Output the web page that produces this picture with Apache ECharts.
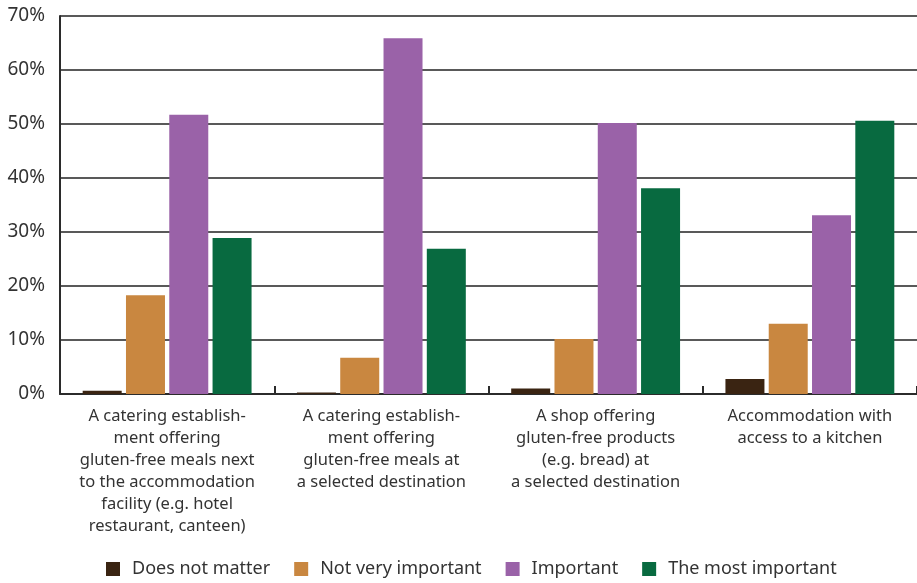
<!DOCTYPE html>
<html>
<head>
<meta charset="utf-8">
<script src="https://cdn.jsdelivr.net/npm/echarts@6/dist/echarts.min.js"></script>
<style>
  html, body { margin: 0; padding: 0; background: #fff; }
  #chart { width: 917px; height: 583px; }
</style>
</head>
<body>
<div id="chart"></div>
<script>
const categories = [
  'A catering establish-\nment offering\ngluten-free meals next\nto the accommodation\nfacility (e.g. hotel\nrestaurant, canteen)',
  'A catering establish-\nment offering\ngluten-free meals at\na selected destination',
  'A shop offering\ngluten-free products\n(e.g. bread) at\na selected destination',
  'Accommodation with\naccess to a kitchen'
];
const seriesNames = ['Does not matter', 'Not very important', 'Important', 'The most important'];
const doesNotMatter = [0.6, 0.3, 1.0, 2.8];
const notVeryImportant = [18.3, 6.7, 10.2, 13.0];
const important = [51.7, 65.9, 50.2, 33.1];
const mostImportant = [28.9, 26.9, 38.1, 50.6];
const colors = ['#3a2412', '#c98740', '#9a62a8', '#086a40'];

const font = 'Noto Sans';
const chart = echarts.init(document.getElementById('chart'));

const seriesData = [doesNotMatter, notVeryImportant, important, mostImportant];

chart.setOption({
  animation: false,
  color: colors,
  textStyle: { fontFamily: font },
  legend: {
    bottom: 0,
    left: 101,
    itemWidth: 14,
    itemHeight: 14,
    itemGap: 24,
    icon: 'rect',
    textStyle: { fontSize: 18, color: '#333', fontFamily: font, padding: [0, 0, 0, 7] },
    data: seriesNames
  },
  grid: { left: 60, right: 0, top: 16, bottom: 189, containLabel: false },
  xAxis: {
    type: 'category',
    data: categories,
    axisLine: { lineStyle: { color: '#2b2b2b', width: 2 } },
    axisTick: { show: true, inside: true, length: 8, lineStyle: { color: '#2b2b2b', width: 2 } },
    axisLabel: {
      color: '#333',
      fontSize: 16.5,
      lineHeight: 22,
      margin: 11,
      interval: 0
    }
  },
  yAxis: {
    type: 'value',
    min: 0,
    max: 70,
    interval: 10,
    axisLine: { show: true, lineStyle: { color: '#2b2b2b', width: 2 } },
    axisTick: { show: false },
    splitLine: { lineStyle: { color: '#222', width: 1.5 } },
    axisLabel: { formatter: '{value}%', color: '#333', fontSize: 19, margin: 15 }
  },
  series: seriesData.map((vals, i) => ({
    name: seriesNames[i],
    type: 'bar',
    data: vals,
    barWidth: 39,
    barGap: '11%',
    itemStyle: { color: colors[i] }
  }))
});
</script>
</body>
</html>
